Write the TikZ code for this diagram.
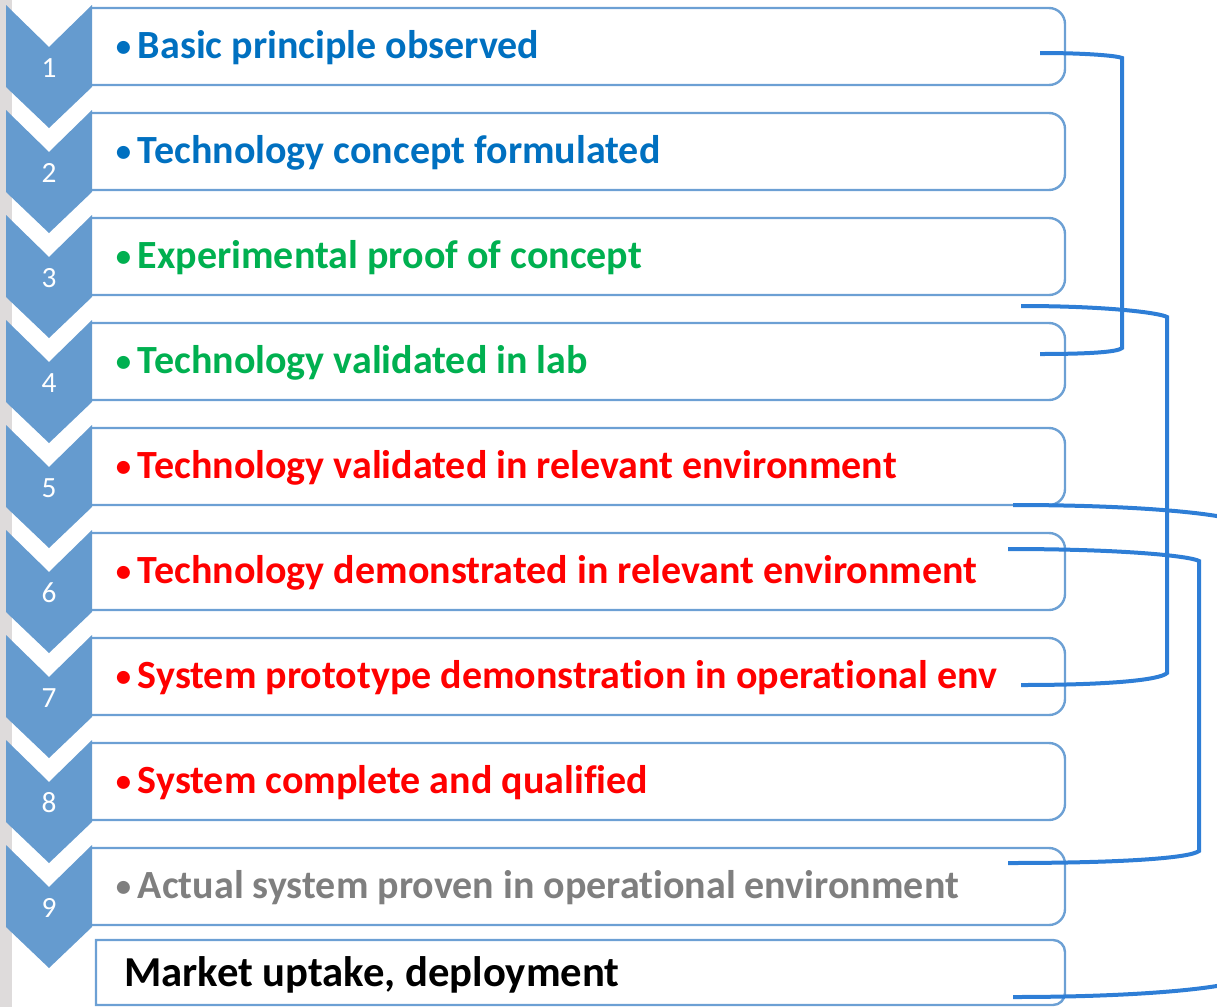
\documentclass[tikz,border=0pt]{standalone}
\usepackage{fontspec}
\setmainfont{Carlito}[Ligatures=NoCommon]
\usepackage{xcolor}

\definecolor{chevblue}{RGB}{101,155,207}
\definecolor{frameblue}{RGB}{108,160,212}
\definecolor{linkblue}{RGB}{46,126,214}
\definecolor{stripgray}{RGB}{222,219,219}
\definecolor{trlblue}{RGB}{0,112,192}
\definecolor{trlgreen}{RGB}{0,176,80}
\definecolor{trlred}{RGB}{255,0,0}
\definecolor{trlgray}{RGB}{127,127,127}

\newcommand{\trlitem}[1]{\makebox[17pt][l]{\hspace{0.5pt}\raisebox{1.2pt}{\fontsize{23}{24}\selectfont •}}#1}

\begin{document}
\begin{tikzpicture}[x=0.75pt,y=0.75pt,yscale=-1,xscale=1,
    chevron/.style={fill=chevblue},
    frame/.style={draw=frameblue,line width=1.8pt},
    levelnum/.style={text=white,font=\fontsize{22}{24}\selectfont,inner sep=0pt,anchor=center},
    leveltext/.style={font=\fontsize{30}{34}\selectfont\bfseries,inner sep=0pt,anchor=base west},
    bracket/.style={draw=linkblue,line width=3pt}]
    \useasboundingbox (0,0) rectangle (1217,1007);
    \clip (0,0) rectangle (1217,1007);
    
    %Shape: Rectangle [left strip]
    \fill [stripgray] (0,0) rectangle (12,1007);
    
    %Shape: Right rounded boxes
    \draw [frame,rounded corners=12] (92,8) -- (1065,8) -- (1065,85) -- (92,85);
    \draw [frame,rounded corners=12] (92,113) -- (1065,113) -- (1065,190) -- (92,190);
    \draw [frame,rounded corners=12] (92,218) -- (1065,218) -- (1065,295) -- (92,295);
    \draw [frame,rounded corners=12] (92,323) -- (1065,323) -- (1065,400) -- (92,400);
    \draw [frame,rounded corners=12] (92,428) -- (1065,428) -- (1065,505) -- (92,505);
    \draw [frame,rounded corners=12] (92,533) -- (1065,533) -- (1065,610) -- (92,610);
    \draw [frame,rounded corners=12] (92,638) -- (1065,638) -- (1065,715) -- (92,715);
    \draw [frame,rounded corners=12] (92,743) -- (1065,743) -- (1065,820) -- (92,820);
    \draw [frame,rounded corners=12] (92,848) -- (1065,848) -- (1065,925) -- (92,925);
    %Shape: Market box
    \draw [frame] (96,940) -- (1053,940) .. controls (1059.63,940) and (1065,945.37) .. (1065,952) -- (1065,993) .. controls (1065,999.63) and (1059.63,1005) .. (1053,1005) -- (96,1005) -- cycle ;
    
    %Shape: Chevrons
    \fill [chevron] (6,5) -- (49,47) -- (92,5) -- (92,87) -- (49,128) -- (6,87) -- cycle ;
    \fill [chevron] (6,110) -- (49,152) -- (92,110) -- (92,192) -- (49,233) -- (6,192) -- cycle ;
    \fill [chevron] (6,215) -- (49,257) -- (92,215) -- (92,297) -- (49,338) -- (6,297) -- cycle ;
    \fill [chevron] (6,320) -- (49,362) -- (92,320) -- (92,402) -- (49,443) -- (6,402) -- cycle ;
    \fill [chevron] (6,425) -- (49,467) -- (92,425) -- (92,507) -- (49,548) -- (6,507) -- cycle ;
    \fill [chevron] (6,530) -- (49,572) -- (92,530) -- (92,612) -- (49,653) -- (6,612) -- cycle ;
    \fill [chevron] (6,635) -- (49,677) -- (92,635) -- (92,717) -- (49,758) -- (6,717) -- cycle ;
    \fill [chevron] (6,740) -- (49,782) -- (92,740) -- (92,822) -- (49,863) -- (6,822) -- cycle ;
    \fill [chevron] (6,845) -- (49,887) -- (92,845) -- (92,927) -- (49,968) -- (6,927) -- cycle ;
    
    % Number Nodes
    \node [levelnum] (n1) at (49,68) {1};
    \node [levelnum] (n2) at (49,173) {2};
    \node [levelnum] (n3) at (49,278) {3};
    \node [levelnum] (n4) at (49,383) {4};
    \node [levelnum] (n5) at (49,488) {5};
    \node [levelnum] (n6) at (49,593) {6};
    \node [levelnum] (n7) at (49,698) {7};
    \node [levelnum] (n8) at (49,803) {8};
    \node [levelnum] (n9) at (49,908) {9};
    
    % Text Nodes
    \node [leveltext,text=trlblue] (t1) at (115,58) {\trlitem{Basic principle observed}};
    \node [leveltext,text=trlblue] (t2) at (115,163) {\trlitem{Technology concept formulated}};
    \node [leveltext,text=trlgreen] (t3) at (115,268) {\trlitem{Experimental proof of concept}};
    \node [leveltext,text=trlgreen] (t4) at (115,373) {\trlitem{Technology validated in lab}};
    \node [leveltext,text=trlred] (t5) at (115,478) {\trlitem{Technology validated in relevant environment}};
    \node [leveltext,text=trlred] (t6) at (115,583) {\trlitem{Technology demonstrated in relevant environment}};
    \node [leveltext,text=trlred] (t7) at (115,688) {\trlitem{System prototype demonstration in operational env}};
    \node [leveltext,text=trlred] (t8) at (115,793) {\trlitem{System complete and qualified}};
    \node [leveltext,text=trlgray] (t9) at (115,898) {\trlitem{Actual system proven in operational environment}};
    \node [leveltext,text=black,font=\fontsize{32}{36}\selectfont\bfseries] (market) at (124,986) {Market uptake, deployment};
    
    %Bracket ends
    \coordinate (aS) at (1040,53);  \coordinate (aT) at (1122,58);
    \coordinate (aB) at (1122,348); \coordinate (aE) at (1040,354);
    \coordinate (bS) at (1021,306); \coordinate (bT) at (1167,317);
    \coordinate (bB) at (1167,673); \coordinate (bE) at (1021,685);
    \coordinate (cS) at (1013,505); \coordinate (cT) at (1240,522);
    \coordinate (cB) at (1240,980); \coordinate (cE) at (1013,997);
    \coordinate (dS) at (1008,549); \coordinate (dT) at (1199,561);
    \coordinate (dB) at (1199,851); \coordinate (dE) at (1008,863);
    
    %Curve Lines [brackets]
    \draw [bracket] (aS) .. controls (1089,53) and (1118,56) .. (aT) -- (aB) .. controls (1118,352) and (1089,354) .. (aE) ;
    \draw [bracket] (bS) .. controls (1109,306) and (1160,313) .. (bT) -- (bB) .. controls (1160,680) and (1109,685) .. (bE) ;
    \draw [bracket] (cS) .. controls (1149,505) and (1229,515) .. (cT) -- (cB) .. controls (1229,987) and (1149,997) .. (cE) ;
    \draw [bracket] (dS) .. controls (1123,549) and (1190,556) .. (dT) -- (dB) .. controls (1190,858) and (1123,863) .. (dE) ;
    
\end{tikzpicture}
\end{document}
